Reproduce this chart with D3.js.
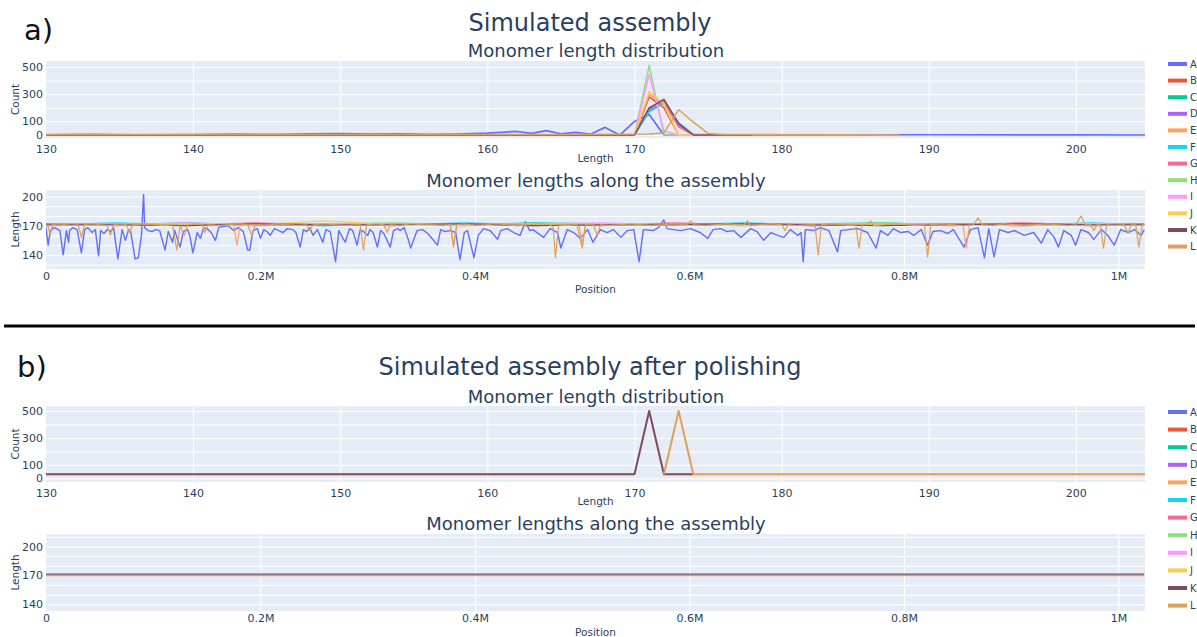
<!DOCTYPE html>
<html>
<head>
<meta charset="utf-8">
<script src="https://cdn.jsdelivr.net/npm/d3@7"></script>
<style>
  body { margin: 0; background: #fff; }
  text { font-family: "DejaVu Sans", Verdana, sans-serif; }
</style>
</head>
<body>
<svg id="chart" width="1197" height="637"></svg>
<script>
var names = ["A", "B", "C", "D", "E", "F", "G", "H", "I", "J", "K", "L"];
var colors = ["#636EFA", "#EF553B", "#00CC96", "#AB63FA", "#FFA15A", "#19D3F3",
              "#FF6692", "#8EE07C", "#FF97FF", "#FECB52", "#7E4A60", "#DDA05C"];

// monomer length distribution (length, count) - simulated assembly
var distA = [[130,2],[133,4],[136,1],[140,3],[143,6],[146,4],[148,9],[150,11],[152,6],[154,9],[156,4],[158,7],
             [160,14],[162,26],[163,12],[164,32],[165,9],[166,20],[167,6],[168,56],[169,0],[170,100],[171,150],
             [172,0],[175,0],[180,1],[190,2],[200,1],[205,0]];
var distB = [[130,0],[170,0],[171,280],[172,200],[173,0],[178,0]];
var distC = [[130,0],[170,0],[171,190],[172,250],[173,80],[174,0],[178,0]];
var distD = [[130,0],[170,0],[171,180],[172,240],[173,70],[174,0],[178,0]];
var distE = [[130,0],[170,0],[171,300],[172,220],[173,0],[178,0]];
var distF = [[130,0],[170,0],[171,170],[172,235],[173,90],[174,5],[178,0]];
var distG = [[130,0],[170,0],[171,200],[172,240],[173,60],[174,0],[178,0]];
var distH = [[130,0],[170,0],[171,512],[172,0],[178,0]];
var distI = [[130,0],[170,0],[171,445],[172,30],[173,0],[178,0]];
var distJ = [[130,0],[170,0],[171,320],[172,230],[173,0],[178,0]];
var distK = [[130,0],[170,0],[171,200],[172,262],[173,85],[174,0],[178,0]];
var distL = [[130,3],[165,3],[171,8],[172,15],[173,186],[174,95],[175,12],[176,4],[188,0]];

// monomer lengths along the assembly (position in kb, length)
var alongA = [[0,168],[2,150],[4,165],[8,168],[13,165],[16,140],[19,165],[21,153],[22,165],[25,168],[29,166],
  [33,142],[36,166],[39,168],[43,163],[46,166],[49,139],[51,165],[54,162],[57,166],[60,164],[63,168],[67,136],
  [71,166],[74,155],[77,166],[79,164],[83,136],[86,137],[89,160],[91,202],[92,168],[95,165],[99,164],[102,166],
  [106,165],[111,145],[114,164],[118,153],[120,165],[125,148],[128,164],[132,166],[134,160],[137,142],[141,163],
  [144,157],[147,168],[150,167],[154,163],[158,155],[161,168],[164,169],[170,170],[175,165],[179,168],[184,164],
  [188,145],[190,145],[193,165],[197,167],[200,157],[203,166],[207,163],[209,160],[213,167],[217,165],[221,163],
  [225,167],[230,166],[233,163],[237,148],[240,166],[243,164],[246,168],[249,160],[253,166],[258,153],[261,166],
  [265,164],[270,133],[273,165],[279,153],[283,167],[286,165],[290,150],[293,166],[296,164],[300,160],[302,166],
  [305,163],[309,148],[312,165],[315,162],[321,148],[324,165],[328,167],[330,165],[334,168],[338,155],[340,147],
  [346,165],[351,166],[356,162],[365,150],[368,166],[372,164],[377,165],[382,163],[386,135],[390,163],[393,165],
  [399,137],[403,160],[408,167],[414,165],[421,156],[424,165],[430,167],[436,163],[442,160],[447,174],[451,165],
  [454,166],[464,158],[470,167],[477,163],[480,147],[486,166],[492,163],[498,157],[505,166],[510,153],[517,166],
  [523,163],[529,166],[536,158],[542,165],[548,166],[553,133],[557,166],[566,165],[571,168],[576,176],[579,167],
  [585,166],[592,165],[601,167],[610,163],[617,157],[622,166],[629,167],[635,164],[641,165],[648,158],[657,167],
  [663,164],[669,155],[676,163],[682,160],[688,158],[694,166],[701,160],[704,163],[706,133],[708,166],[716,165],
  [722,168],[730,165],[738,143],[741,165],[748,166],[757,167],[766,163],[774,147],[778,165],[785,160],[790,167],
  [797,163],[804,164],[809,160],[816,166],[822,150],[827,164],[834,165],[841,162],[846,166],[856,148],[862,166],
  [869,168],[875,137],[879,167],[884,138],[889,166],[897,163],[903,165],[912,160],[921,163],[928,152],[934,166],
  [940,158],[944,148],[949,165],[956,160],[960,150],[965,166],[972,163],[977,156],[984,166],[990,160],[996,150],
  [1002,166],[1009,163],[1015,166],[1021,160],[1024,166]];
var alongE = [[0,171],[50,172],[100,171],[160,170],[175,171],[178,150],[181,171],[250,172],[300,171],[377,171],
  [380,150],[383,171],[450,170],[497,171],[500,150],[503,171],[600,172],[700,171],[855,171],[858,147],[861,171],
  [900,170],[1024,171]];
var alongL = [[0,171],[2,169],[4,160],[6,171],[12,172],[18,171],[24,170],[30,171],[33,158],[36,171],[42,172],
  [50,171],[57,170],[60,160],[63,171],[70,172],[75,171],[78,163],[81,171],[90,172],[100,171],[110,170],[118,171],
  [122,145],[125,170],[129,160],[132,171],[140,172],[146,171],[148,163],[151,171],[160,170],[170,171],[180,172],
  [188,171],[192,160],[195,171],[205,170],[215,172],[225,171],[235,170],[243,171],[246,165],[249,171],[260,172],
  [270,171],[280,170],[290,171],[293,171],[296,145],[299,171],[308,172],[315,171],[318,163],[321,171],[330,170],
  [340,172],[350,171],[360,171],[370,170],[377,171],[380,148],[383,171],[390,172],[400,170],[410,171],[420,172],
  [430,171],[440,170],[450,171],[460,172],[470,171],[473,168],[475,137],[478,171],[485,170],[495,171],[500,147],
  [503,171],[510,172],[514,160],[517,171],[525,170],[535,171],[545,172],[555,171],[565,170],[575,171],[585,172],
  [595,171],[598,171],[601,175],[604,171],[615,170],[625,171],[635,172],[645,171],[651,171],[654,175],[657,170],
  [665,171],[675,172],[686,171],[689,165],[692,171],[700,170],[710,171],[717,171],[720,140],[723,171],[732,172],
  [742,171],[750,170],[755,171],[758,147],[761,171],[766,171],[769,175],[772,170],[782,171],[792,172],[802,171],
  [812,170],[819,171],[822,138],[825,171],[835,172],[845,171],[855,170],[865,171],[869,178],[873,171],[883,170],
  [893,172],[903,171],[913,170],[923,171],[933,172],[943,171],[953,170],[960,171],[965,180],[969,171],[974,171],
  [977,165],[980,171],[983,171],[986,147],[989,171],[997,170],[1005,171],[1009,163],[1012,171],[1016,171],
  [1019,148],[1022,171],[1024,171]];
// the near-flat series share one set of positions (kb)
var flatPos = [0,65,130,195,260,325,390,455,520,585,650,715,780,845,910,975,1024];
var flatB = [171,172,170,171,172,171,170,172,171,171,172,170,171,172,171,170,171];
var flatC = [172,171,173,171,170,172,171,173,172,171,170,172,173,171,172,171,172];
var flatD = [170,171,172,170,171,172,171,170,171,172,171,170,172,171,170,171,171];
var flatF = [171,173,171,172,170,171,173,171,172,171,173,171,170,172,171,173,171];
var flatG = [172,170,171,173,171,170,172,171,170,173,171,172,171,170,173,171,172];
var flatH = [171,172,171,170,172,173,171,172,171,170,172,171,173,171,172,170,171];
var flatI = [170,171,173,171,172,170,171,172,173,171,170,171,172,171,170,172,170];
var flatJ = [171,170,172,171,175,171,170,171,172,171,170,172,171,170,171,172,171];
var flatK = [171,171,170,172,171,171,172,170,171,171,172,171,170,171,172,171,171];

// after polishing
var polDistK = [[130,30],[170,30],[171,500],[172,30],[174,30]];
var polDistL = [[172,30],[173,500],[174,30],[205,30]];
var polAlongK = [[0,171.3],[1024,171.3]];
var polAlongL = [[0,169.8],[1024,169.8]];

var lengthTicks = [130, 140, 150, 160, 170, 180, 190, 200];
var countTicks = [0, 100, 300, 500];
var countGrid = [0, 100, 200, 300, 400, 500];
var posTicks = [0, 200, 400, 600, 800, 1000];
var lenTicks = [140, 170, 200];
var lenGrid = [130, 140, 150, 160, 170, 180, 190, 200, 210];

function zipFlat(vals) { return flatPos.map(function(p, i) { return [p, vals[i]]; }); }

var svg = d3.select("#chart");
var left = 46, right = 1145;
var titleColor = "#2a3f5f";
var clipId = 0;

function panel(cfg) {
  var g = svg.append("g");
  var h = cfg.bottom - cfg.top;
  var x = d3.scaleLinear().domain(cfg.xDomain).range([left, right]);
  var y = d3.scaleLinear().domain(cfg.yDomain).range([cfg.bottom, cfg.top]);

  g.append("rect").attr("x", left).attr("y", cfg.top)
    .attr("width", right - left).attr("height", h).attr("fill", "#E5ECF6");

  // grid
  g.append("g").attr("transform", "translate(0," + cfg.bottom + ")")
    .call(d3.axisBottom(x).tickValues(cfg.xGrid).tickSize(-h).tickFormat(""))
    .call(function(s) { s.select(".domain").remove(); s.selectAll("line").attr("stroke", "#fff").attr("stroke-width", 1); });
  g.append("g").attr("transform", "translate(" + left + ",0)")
    .call(d3.axisLeft(y).tickValues(cfg.yGrid.filter(function(v) { return v > cfg.yDomain[0] && v < cfg.yDomain[1]; }))
      .tickSize(-(right - left)).tickFormat(""))
    .call(function(s) { s.select(".domain").remove(); s.selectAll("line").attr("stroke", "#fff").attr("stroke-width", 1); });

  // axes labels
  g.append("g").attr("transform", "translate(0," + cfg.bottom + ")")
    .call(d3.axisBottom(x).tickValues(cfg.xTicks).tickSize(0).tickPadding(cfg.xPad).tickFormat(cfg.xFormat))
    .call(function(s) { s.select(".domain").remove(); s.selectAll("text").attr("fill", titleColor).style("font-size", "11px").style("font-family", "DejaVu Sans, sans-serif"); });
  g.append("g").attr("transform", "translate(" + left + ",0)")
    .call(d3.axisLeft(y).tickValues(cfg.yTicks).tickSize(0).tickPadding(3))
    .call(function(s) { s.select(".domain").remove(); s.selectAll("text").attr("fill", titleColor).style("font-size", "11px").style("font-family", "DejaVu Sans, sans-serif"); });

  g.append("text").attr("x", (left + right) / 2).attr("y", cfg.xTitleY)
    .attr("text-anchor", "middle").attr("fill", titleColor).style("font-size", "10.5px").text(cfg.xTitle);
  g.append("text").attr("transform", "translate(19," + (cfg.top + h / 2) + ") rotate(-90)")
    .attr("text-anchor", "middle").attr("fill", titleColor).style("font-size", "10.5px").text(cfg.yTitle);
  g.append("text").attr("x", 596).attr("y", cfg.titleY)
    .attr("text-anchor", "middle").attr("fill", titleColor).style("font-size", "18px").text(cfg.title);

  var id = "clip" + (clipId++);
  g.append("clipPath").attr("id", id).append("rect")
    .attr("x", left).attr("y", cfg.top).attr("width", right - left).attr("height", h);
  var line = d3.line().x(function(d) { return x(d[0]); }).y(function(d) { return y(d[1]); });
  g.append("g").attr("clip-path", "url(#" + id + ")")
    .selectAll("path").data(cfg.series).enter().append("path")
    .attr("d", function(d) { return d.length ? line(d) : null; })
    .attr("fill", "none")
    .attr("stroke", function(d, i) { return colors[i]; })
    .attr("stroke-width", function(d, i) { return i === 0 ? cfg.lineWidth + 0.2 : cfg.lineWidth; })
    .attr("stroke-linejoin", "round");
}

function legend(y0, step) {
  var lg = svg.append("g").selectAll("g").data(names).enter().append("g")
    .attr("transform", function(d, i) { return "translate(1168," + (y0 + i * step) + ")"; });
  lg.append("line").attr("x1", 0).attr("x2", 19).attr("y1", 0).attr("y2", 0)
    .attr("stroke", function(d, i) { return colors[i]; }).attr("stroke-width", 4);
  lg.append("text").attr("x", 22).attr("y", 3.5).attr("fill", titleColor)
    .style("font-size", "10px").text(function(d) { return d; });
}

var posFormat = function(v) { return v === 0 ? "0" : v === 1000 ? "1M" : (v / 1000) + "M"; };

// ---- a) ----
svg.append("text").attr("x", 24).attr("y", 40).style("font-size", "29px").attr("fill", "#111").text("a)");
svg.append("text").attr("x", 590).attr("y", 31).attr("text-anchor", "middle").attr("fill", titleColor)
  .style("font-size", "24px").text("Simulated assembly");

panel({
  top: 61, bottom: 138, xDomain: [130, 204.7], yDomain: [-22, 544],
  xTicks: lengthTicks, xGrid: lengthTicks.slice(1), xFormat: d3.format("d"), xPad: 7,
  yTicks: countTicks, yGrid: countGrid,
  xTitle: "Length", xTitleY: 162, yTitle: "Count", title: "Monomer length distribution", titleY: 57,
  series: [distA, distB, distC, distD, distE, distF, distG, distH, distI, distJ, distK, distL], lineWidth: 1.5
});
panel({
  top: 190, bottom: 269, xDomain: [0, 1024.7], yDomain: [125.5, 206.7],
  xTicks: posTicks, xGrid: posTicks.slice(1), xFormat: posFormat, xPad: 3,
  yTicks: lenTicks, yGrid: lenGrid,
  xTitle: "Position", xTitleY: 293, yTitle: "Length", title: "Monomer lengths along the assembly", titleY: 187,
  series: [alongA, zipFlat(flatB), zipFlat(flatC), zipFlat(flatD), alongE, zipFlat(flatF), zipFlat(flatG),
           zipFlat(flatH), zipFlat(flatI), zipFlat(flatJ), zipFlat(flatK), alongL], lineWidth: 1.2
});
legend(64, 16.6);

svg.append("line").attr("x1", 4).attr("x2", 1195).attr("y1", 326).attr("y2", 326)
  .attr("stroke", "#000").attr("stroke-width", 3);

// ---- b) ----
svg.append("text").attr("x", 17).attr("y", 377).style("font-size", "29px").attr("fill", "#111").text("b)");
svg.append("text").attr("x", 590).attr("y", 375).attr("text-anchor", "middle").attr("fill", titleColor)
  .style("font-size", "24px").text("Simulated assembly after polishing");

panel({
  top: 406, bottom: 482, xDomain: [130, 204.7], yDomain: [-27, 537],
  xTicks: lengthTicks, xGrid: lengthTicks.slice(1), xFormat: d3.format("d"), xPad: 7,
  yTicks: countTicks, yGrid: countGrid,
  xTitle: "Length", xTitleY: 505, yTitle: "Count", title: "Monomer length distribution", titleY: 403,
  series: [[], [], [], [], [], [], [], [], [], [], polDistK, polDistL], lineWidth: 2
});
panel({
  top: 534, bottom: 611, xDomain: [0, 1024.7], yDomain: [133, 213],
  xTicks: posTicks, xGrid: posTicks.slice(1), xFormat: posFormat, xPad: 3,
  yTicks: lenTicks, yGrid: lenGrid,
  xTitle: "Position", xTitleY: 636, yTitle: "Length", title: "Monomer lengths along the assembly", titleY: 530,
  series: [[], [], [], [], [], [], [], [], [], [], polAlongK, polAlongL], lineWidth: 1.3
});
legend(412, 17.6);
</script>
</body>
</html>
